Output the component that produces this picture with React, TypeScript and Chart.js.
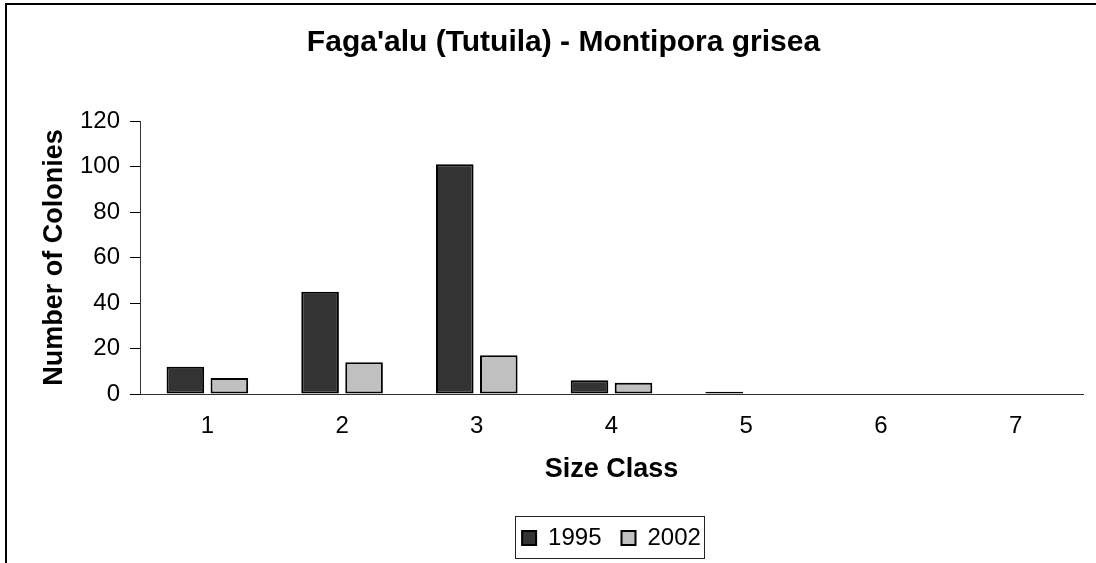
import React, { useEffect, useRef } from "react";
import { Chart, registerables } from "chart.js";

Chart.register(...registerables);

const categories = ["1", "2", "3", "4", "5", "6", "7"];
const series1995 = [12, 45, 101, 6, 1, 0, 0];
const series2002 = [7, 14, 17, 5, 0, 0, 0];
const seriesLabels = ["1995", "2002"];
const yTicks = [0, 20, 40, 60, 80, 100, 120];

const FONT = "'Liberation Sans', Arial, Helvetica, sans-serif";

const frameAndLegendBox = {
  id: "frameAndLegendBox",
  beforeDraw(chart: any) {
    const { ctx, width, height } = chart;
    ctx.save();
    ctx.fillStyle = "#ffffff";
    ctx.fillRect(0, 0, width, height);
    ctx.strokeStyle = "#000000";
    ctx.lineWidth = 2;
    ctx.strokeRect(6, 4, width + 20, height + 20);
    ctx.restore();
  },
  afterDraw(chart: any) {
    const legend = chart.legend;
    if (!legend || !legend.legendHitBoxes || !legend.legendHitBoxes.length) return;
    const boxes = legend.legendHitBoxes;
    const first = boxes[0];
    const last = boxes[boxes.length - 1];
    const cy = first.top + first.height / 2;
    const left = Math.round(first.left - 7) + 0.5;
    const right = Math.round(last.left + last.width + 3) + 0.5;
    const top = Math.round(cy - 22) + 0.5;
    const bottom = Math.round(cy + 20) + 0.5;
    const { ctx } = chart;
    ctx.save();
    ctx.strokeStyle = "#222222";
    ctx.lineWidth = 1;
    ctx.strokeRect(left, top, right - left, bottom - top);
    ctx.restore();
  },
};

export default function App() {
  const ref = useRef<HTMLCanvasElement | null>(null);

  useEffect(() => {
    if (!ref.current) return;
    const chart = new Chart(ref.current, {
      type: "bar",
      data: {
        labels: categories,
        datasets: [
          {
            label: seriesLabels[0],
            data: series1995,
            backgroundColor: "#333333",
            borderColor: "#000000",
            borderWidth: 2,
            borderSkipped: false,
          },
          {
            label: seriesLabels[1],
            data: series2002,
            backgroundColor: "#c0c0c0",
            borderColor: "#000000",
            borderWidth: 2,
            borderSkipped: false,
          },
        ],
      },
      options: {
        responsive: false,
        animation: false,
        layout: { padding: { left: 44, right: 13, top: 0, bottom: 3 } },
        datasets: {
          bar: { categoryPercentage: 0.653, barPercentage: 0.855 },
        },
        plugins: {
          tooltip: { enabled: false },
          title: {
            display: true,
            text: "Faga'alu (Tutuila) - Montipora grisea",
            color: "#000000",
            font: { family: FONT, size: 30, weight: "bold", lineHeight: 1.2 },
            padding: { top: 25, bottom: 60 },
          },
          legend: {
            display: true,
            position: "bottom",
            fullSize: false,
            maxHeight: 58,
            labels: {
              color: "#000000",
              font: { family: FONT, size: 24 },
              boxWidth: 14,
              boxHeight: 14,
              padding: 20,
            },
          },
        },
        scales: {
          x: {
            grid: { display: false, drawTicks: false },
            border: { display: true, color: "#333333", width: 1 },
            ticks: {
              color: "#000000",
              font: { family: FONT, size: 24 },
              padding: 18,
            },
            title: {
              display: true,
              text: "Size Class",
              color: "#000000",
              font: { family: FONT, size: 27, weight: "bold", lineHeight: 1.2 },
              padding: { top: 0, bottom: 20 },
            },
            afterFit(scale: any) {
              scale.height = 112;
            },
          },
          y: {
            min: 0,
            max: 120,
            afterBuildTicks(scale: any) {
              scale.ticks = yTicks.map((v) => ({ value: v }));
            },
            grid: {
              display: true,
              drawOnChartArea: false,
              drawTicks: true,
              tickLength: 10,
              tickColor: "#000000",
            },
            border: { display: true, color: "#333333", width: 1 },
            ticks: {
              color: "#000000",
              font: { family: FONT, size: 24 },
              padding: 10,
            },
            title: {
              display: true,
              text: "Number of Colonies",
              color: "#000000",
              font: { family: FONT, size: 27, weight: "bold", lineHeight: 1.2 },
              padding: { top: -6, bottom: 0 },
            },
            afterFit(scale: any) {
              scale.width = 96;
            },
          },
        },
      },
      plugins: [frameAndLegendBox],
    });
    return () => chart.destroy();
  }, []);

  return (
    <div style={{ position: "fixed", left: 0, top: 0, width: 1096, height: 563 }}>
      <canvas ref={ref} width={1096} height={563} style={{ display: "block" }} />
    </div>
  );
}
